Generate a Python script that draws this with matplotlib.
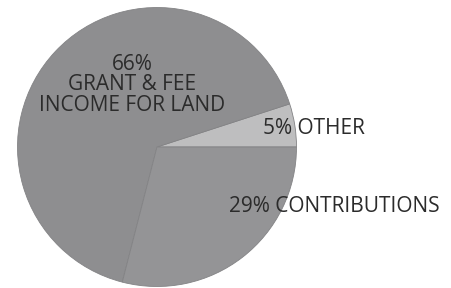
import matplotlib
matplotlib.use("Agg")
import matplotlib.pyplot as plt

# slices, counter-clockwise from 3 o'clock
names = ["OTHER", "GRANT & FEE\nINCOME FOR LAND", "CONTRIBUTIONS"]
shares = [5, 66, 29]
colors = ["#bebebf", "#8e8e90", "#949496"]

W, H = 451, 288
R = 139.5           # pie radius in pixels
CX, CY = 157, 147   # pie centre in pixels (from top-left)

fig = plt.figure(figsize=(W / 100, H / 100), dpi=100)
ax = fig.add_axes([0, 0, 1, 1])
ax.pie(shares, colors=colors, startangle=0, counterclock=True,
       wedgeprops=dict(edgecolor="#838385", linewidth=0.6))
ax.set_xlim(-CX / R, (W - CX) / R)
ax.set_ylim((CY - H) / R, CY / R)
ax.set_aspect("equal")
ax.axis("off")


def px(x, y):
    return (x - CX) / R, (CY - y) / R


txt = dict(color="#2b2b2b", fontsize=15, family=["Open Sans", "DejaVu Sans"])
ax.text(*px(132, 85), f"{shares[1]}%\n{names[1]}", ha="center", va="center",
        linespacing=0.98, **txt)
ax.text(*px(263, 128), f"{shares[0]}% {names[0]}", ha="left", va="center", **txt)
ax.text(*px(229, 207), f"{shares[2]}% {names[2]}", ha="left", va="center", **txt)

fig.savefig("out.png", dpi=100)
